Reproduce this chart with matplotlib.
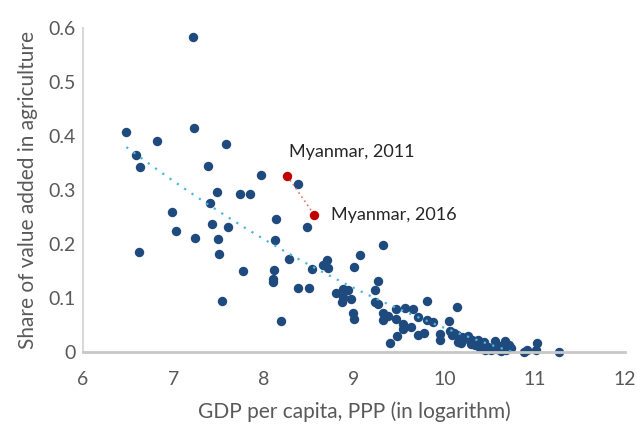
import matplotlib.pyplot as plt
import numpy as np

# log GDP per capita (PPP) and share of value added in agriculture
gdp_log = [7.22, 6.48, 7.23, 6.82, 7.58, 6.59, 6.63, 7.38, 7.97, 8.38,
           7.48, 7.74, 7.85, 7.41, 6.99, 7.43, 7.60, 8.14, 8.48, 7.03,
           7.24, 7.49, 8.13, 6.62, 7.51, 8.28, 8.53, 7.77, 8.11, 8.10,
           8.10, 8.38, 8.50, 7.54, 8.19, 9.32, 9.07, 8.70, 8.66, 8.71,
           9.00, 9.27, 9.23, 8.88, 8.93, 8.80, 8.88, 8.97, 8.87, 9.23,
           9.27, 9.81, 10.14, 9.46, 9.56, 9.65, 8.99, 9.00, 9.32, 9.38,
           9.32, 9.47, 9.71, 9.81, 9.88, 10.05, 9.54, 9.54, 9.63, 9.71,
           9.77, 9.48, 9.40, 9.95, 9.95, 10.06, 10.09, 10.14, 10.15, 10.22,
           10.26, 10.19, 10.29, 10.37, 10.34, 10.42, 10.39, 10.45, 10.56, 10.56,
           10.52, 10.67, 10.72, 10.63, 10.68, 10.74, 10.88, 10.92, 11.03, 11.02,
           11.27, 10.11, 10.20, 10.31, 10.44, 10.48, 10.61, 10.58, 10.70]
agri_share = [0.583, 0.407, 0.415, 0.390, 0.385, 0.365, 0.343, 0.345, 0.327, 0.312,
              0.296, 0.292, 0.292, 0.276, 0.259, 0.237, 0.231, 0.247, 0.231, 0.225,
              0.212, 0.209, 0.207, 0.185, 0.182, 0.173, 0.153, 0.150, 0.151, 0.136,
              0.129, 0.119, 0.119, 0.094, 0.058, 0.199, 0.179, 0.170, 0.161, 0.155,
              0.157, 0.132, 0.115, 0.117, 0.114, 0.109, 0.101, 0.098, 0.093, 0.093,
              0.089, 0.094, 0.083, 0.080, 0.082, 0.080, 0.073, 0.062, 0.072, 0.067,
              0.059, 0.062, 0.064, 0.059, 0.055, 0.058, 0.052, 0.042, 0.046, 0.031,
              0.036, 0.030, 0.017, 0.033, 0.022, 0.038, 0.031, 0.031, 0.019, 0.025,
              0.030, 0.016, 0.015, 0.022, 0.013, 0.016, 0.007, 0.004, 0.020, 0.010,
              0.004, 0.020, 0.013, 0.001, 0.004, 0.007, 0.000, 0.003, 0.017, 0.004,
              0.000, 0.036, 0.028, 0.022, 0.018, 0.010, 0.012, 0.006, 0.009]

myanmar_gdp = [8.26, 8.56]
myanmar_agri = [0.326, 0.254]
myanmar_labels = ["Myanmar, 2011", "Myanmar, 2016"]

plt.rcParams['font.family'] = ['Lato', 'DejaVu Sans']

fig = plt.figure(figsize=(6.37, 4.30), dpi=100)
ax = fig.add_axes([83/637, 1 - 352/430, (625 - 83)/637, (352 - 28)/430])

# trend line (2nd order polynomial, like Excel)
x_all = np.array(gdp_log + myanmar_gdp)
y_all = np.array(agri_share + myanmar_agri)
coef = np.polyfit(x_all, y_all, 2)
xs = np.linspace(x_all.min(), x_all.max(), 200)
ax.plot(xs, np.polyval(coef, xs), ls=(0, (1, 3)), color='#4bb8d8', lw=1.6, zorder=3)

ax.scatter(gdp_log, agri_share, s=46, color='#1f4a7e', zorder=2, clip_on=False, linewidths=0)

ax.plot(myanmar_gdp, myanmar_agri, ls=(0, (1, 2)), color='#e8756b', lw=1.2, zorder=3)
ax.scatter(myanmar_gdp, myanmar_agri, s=46, color='#c00000', zorder=4, linewidths=0)

ax.annotate(myanmar_labels[0], (myanmar_gdp[0], myanmar_agri[0]), xytext=(1, 17),
            textcoords='offset points', fontsize=13, color='#262626', va='center')
ax.annotate(myanmar_labels[1], (myanmar_gdp[1], myanmar_agri[1]), xytext=(12, 0),
            textcoords='offset points', fontsize=13, color='#262626', va='center')

ax.set_xlim(6, 12)
ax.set_ylim(0, 0.6)
ax.set_xticks(range(6, 13))
ax.set_yticks([0, 0.1, 0.2, 0.3, 0.4, 0.5, 0.6])
ax.set_yticklabels(['0', '0.1', '0.2', '0.3', '0.4', '0.5', '0.6'])
ax.tick_params(length=0, labelsize=14, labelcolor='#595959')
ax.tick_params(axis='x', pad=14)
ax.tick_params(axis='y', pad=5)

for s in ['top', 'right']:
    ax.spines[s].set_visible(False)
ax.spines['left'].set_color('#d9d9d9')
ax.spines['left'].set_linewidth(1.5)
ax.spines['bottom'].set_color('#c8c8c8')
ax.spines['bottom'].set_linewidth(2)

ax.set_xlabel('GDP per capita, PPP (in logarithm)', fontsize=15, color='#595959', labelpad=9)
ax.set_ylabel('Share of value added in agriculture', fontsize=15, color='#595959', labelpad=8)

fig.savefig('out.png', dpi=100)
